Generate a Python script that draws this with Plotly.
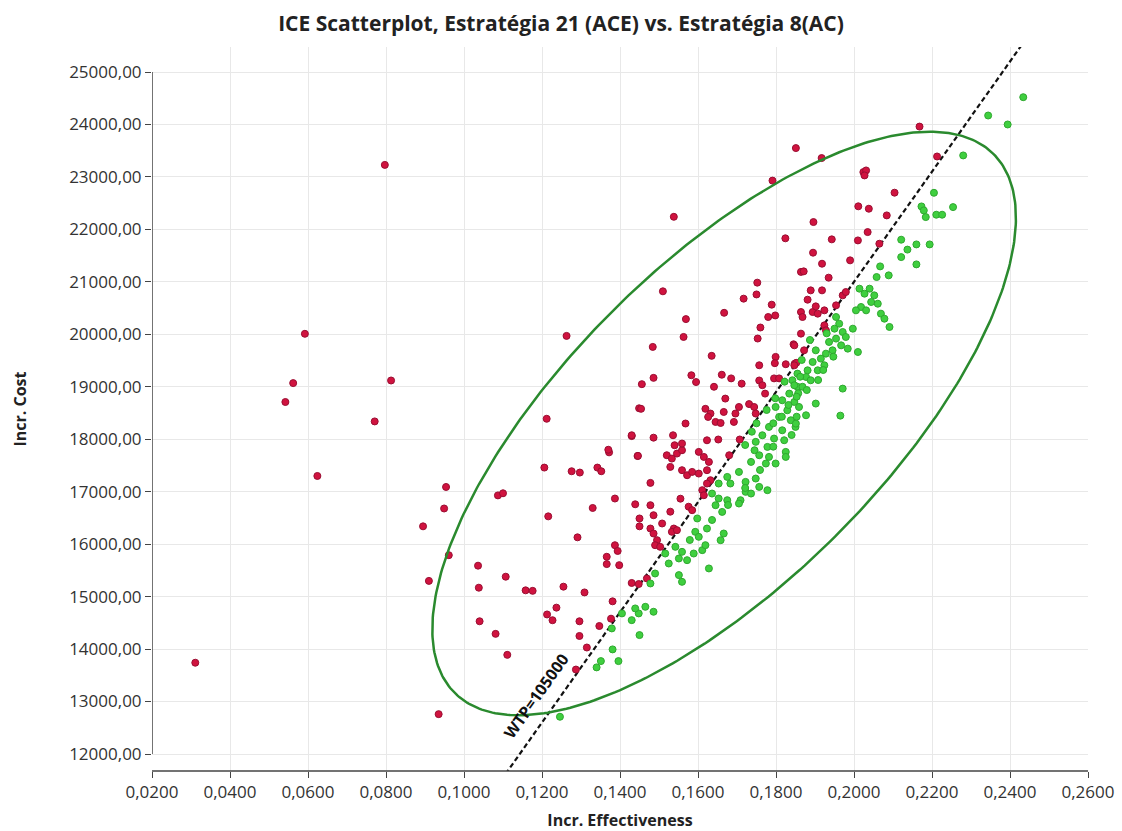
import numpy as np
import plotly.graph_objects as go

# Incremental effectiveness / cost pairs above the WTP threshold (not cost-effective)
red_eff = [
    0.0311, 0.0592, 0.0562, 0.0542, 0.0797, 0.0813, 0.0771, 0.0624, 0.0954, 0.0949,
    0.0895, 0.0961, 0.0910, 0.0935,
    0.1212, 0.1206, 0.1276, 0.1297, 0.1342, 0.1352, 0.1372, 0.1430, 0.1449, 0.1445,
    0.1387, 0.1439, 0.1330, 0.1450, 0.1450, 0.1087, 0.1100, 0.1216, 0.1291, 0.1387,
    0.1394, 0.1366, 0.1366, 0.1398, 0.1036, 0.1107,
    0.1038, 0.1158, 0.1176, 0.1255, 0.1309, 0.1430, 0.1448, 0.1381, 0.1237, 0.1213,
    0.1227, 0.1296, 0.1347, 0.1377, 0.1040, 0.1081, 0.1296, 0.1315, 0.1111, 0.1287,
    0.1752, 0.1750, 0.1717, 0.1510, 0.1667, 0.1789, 0.1780, 0.1798, 0.1569, 0.1563,
    0.1760, 0.1753, 0.1864, 0.1845, 0.1484, 0.1635, 0.1799, 0.1797, 0.1825, 0.1848,
    0.1757, 0.1486, 0.1456, 0.1583, 0.1595, 0.1661, 0.1685, 0.1712, 0.1757, 0.1765,
    0.1772, 0.1795, 0.1808, 0.1641, 0.1670, 0.1454, 0.1619, 0.1632, 0.1626, 0.1666,
    0.1705, 0.1696, 0.1731, 0.1744, 0.1748, 0.1692, 0.1645, 0.1658, 0.1568, 0.1430,
    0.1486, 0.1536, 0.1540, 0.1623, 0.1652, 0.1707, 0.1370,
    0.1446, 0.1520, 0.1533, 0.1546, 0.1559, 0.1559, 0.1602, 0.1615, 0.1628, 0.1529,
    0.1559, 0.1572, 0.1585, 0.1602, 0.1623, 0.1632, 0.1623, 0.1680, 0.1478, 0.1478,
    0.1486, 0.1555, 0.1529, 0.1576, 0.1585, 0.1611, 0.1615, 0.1478, 0.1508, 0.1538,
    0.1533, 0.1546, 0.1486, 0.1495, 0.1490, 0.1503, 0.1469,
    0.1538, 0.1791, 0.1824, 0.1263,
    0.2168, 0.1851, 0.1917, 0.2024, 0.2031, 0.2027, 0.2213, 0.2104, 0.2011, 0.2038,
    0.2084, 0.1896, 0.1943, 0.2035, 0.2010, 0.2065, 0.1895, 0.1918, 0.1990, 0.1871,
    0.1935,
    0.1889, 0.1918, 0.1881, 0.1864, 0.1868, 0.1894, 0.1907, 0.1924, 0.1902, 0.1954,
    0.1971, 0.1979, 0.1924, 0.1928, 0.1864, 0.1847, 0.1872, 0.1852, 0.1847,
]
red_cost = [
    13740, 20010, 19070, 18710, 23230, 19120, 18340, 17300, 17090, 16680,
    16340, 15790, 15300, 12760,
    18390, 17460, 17390, 17365, 17460, 17390, 17750, 18060, 18590, 17680,
    16870, 16760, 16690, 16490, 16340, 16930, 16970, 16530, 16130, 15980,
    15870, 15760, 15620, 15600, 15590, 15380,
    15170, 15120, 15110, 15190, 15080, 15260, 15240, 14910, 14790, 14660,
    14550, 14530, 14440, 14580, 14530, 14290, 14250, 14030, 13890, 13610,
    20985, 20760, 20680, 20820, 20410, 20565, 20330, 20360, 20290, 19950,
    20130, 19920, 21190, 19810, 19760, 19590, 19570, 19450, 19430, 19440,
    19410, 19170, 19050, 19220, 19090, 19230, 19160, 19060, 19120, 19030,
    18870, 19160, 19160, 19000, 18775, 18580, 18580, 18490, 18425, 18520,
    18615, 18490, 18670, 18615, 18490, 18330, 18330, 18310, 18300, 18076,
    18030, 18076, 17886, 17980, 17995, 17995, 17800,
    17683, 17695, 17632, 17727, 17790, 17918, 17759, 17663, 17568, 17473,
    17410, 17314, 17377, 17346, 17410, 17219, 17156, 17695, 17168, 16743,
    16552, 16867, 16619, 16714, 16648, 17029, 16933, 16298, 16394, 16298,
    16235, 16267, 16203, 16076, 15981, 15949, 15346,
    22240, 22930, 21830, 19970,
    23960, 23550, 23360, 23092, 23124, 23029, 23390, 22700, 22440, 22394,
    22267, 22140, 21810, 21949, 21790, 21727, 21556, 21346, 21410, 21200,
    21080,
    20838, 20838, 20660, 20425, 20330, 20425, 20394, 20457, 20533, 20552,
    20743, 20806, 20171, 20076, 20013, 19790, 19695, 19456, 19410,
]

# Pairs below the WTP threshold (cost-effective)
green_eff = [
    0.1379, 0.1381, 0.1396, 0.1351, 0.1340, 0.1430, 0.1448, 0.1450, 0.1246,
    0.1842, 0.1855, 0.1834, 0.1816, 0.1847, 0.1799, 0.1829, 0.1859, 0.1808, 0.1838,
    0.1782, 0.1816, 0.1850, 0.1765, 0.1795, 0.1748, 0.1778, 0.1821,
    0.1745, 0.1757, 0.1782, 0.1799, 0.1825, 0.1825, 0.1774, 0.1736, 0.1705, 0.1675,
    0.1683, 0.1653, 0.1722, 0.1748, 0.1757, 0.1778, 0.1636, 0.1653, 0.1675, 0.1709,
    0.1722, 0.1736, 0.1645, 0.1662, 0.1705, 0.1598, 0.1593, 0.1623, 0.1658, 0.1666,
    0.1602, 0.1542, 0.1559, 0.1551, 0.1572, 0.1589, 0.1611, 0.1619, 0.1525, 0.1516,
    0.1628, 0.1490, 0.1478, 0.1551, 0.1559, 0.1439, 0.1465, 0.1486, 0.1405,
    0.2434, 0.2344, 0.2394, 0.2280, 0.2205, 0.2173, 0.2179, 0.2184, 0.2211, 0.2226,
    0.2254, 0.2160, 0.2194, 0.2121, 0.2137, 0.2121, 0.2160, 0.2067, 0.2058, 0.2089,
    0.2014, 0.2027, 0.2040, 0.2052, 0.2061, 0.2044, 0.2018, 0.2031, 0.2005, 0.2069,
    0.2078, 0.2091, 0.1997, 0.1954, 0.1962, 0.1950, 0.1971, 0.1979, 0.1954, 0.1967,
    0.1984, 0.1936, 0.1945, 0.1928, 0.2010, 0.1902, 0.1915, 0.1894, 0.1924, 0.1907,
    0.1881, 0.1877, 0.1855, 0.1889, 0.1868, 0.1847, 0.1971, 0.1902, 0.1877, 0.1851,
    0.1965,
    0.1862, 0.1822, 0.1857, 0.1798, 0.1832, 0.1776, 0.1815, 0.1853, 0.1750, 0.1793,
    0.1738, 0.1840, 0.1793, 0.1721,
    0.1930, 0.1887, 0.1921, 0.1947, 0.1866, 0.1853, 0.1879, 0.1908,
    0.1636, 0.1677, 0.1721, 0.1579, 0.1759,
]
green_cost = [
    14394, 13994, 13771, 13771, 13651, 14552, 14680, 14267, 12710,
    19124, 19000, 18870, 18743, 18711, 18615, 18552, 18615, 18425, 18362,
    18235, 18171, 18235, 18076, 18013, 17950, 17854, 17981,
    17790, 17695, 17663, 17537, 17759, 17663, 17537, 17568, 17377, 17282,
    17156, 17156, 17187, 17251, 17092, 17029, 16965, 16870, 16838, 16838,
    16997, 16965, 16743, 16615, 16775, 16490, 16235, 16298, 16076, 16203,
    16140, 15949, 15854, 15727, 15695, 15822, 15886, 15981, 15632, 15822,
    15537, 15441, 15251, 15410, 15282, 14775, 14806, 14711, 14680,
    24520, 24171, 24000, 23410, 22698, 22438, 22362, 22235, 22280, 22280,
    22425, 21714, 21714, 21804, 21615, 21472, 21333, 21295, 21092, 21124,
    20870, 20775, 20870, 20743, 20584, 20616, 20521, 20457, 20457, 20394,
    20298, 20140, 20108, 20330, 20203, 20108, 20044, 19949, 19918, 19790,
    19727, 19854, 19695, 19632, 19663, 19695, 19537, 19473, 19410, 19314,
    19314, 19187, 19251, 19124, 19000, 19029, 18965, 18680, 18457, 18298,
    18450,
    19192, 19097, 18876, 18781, 18653, 18558, 18430, 18430, 18304, 18304,
    18144, 18081, 17858, 17890,
    20019, 19892, 19320, 19574, 19511, 18811, 18938, 19129,
    16461, 16747, 17071, 16080, 17414,
]

WTP = 105000
x_ticks = [0.02, 0.04, 0.06, 0.08, 0.10, 0.12, 0.14, 0.16, 0.18, 0.20, 0.22, 0.24, 0.26]
y_ticks = [12000, 13000, 14000, 15000, 16000, 17000, 18000, 19000, 20000, 21000,
           22000, 23000, 24000, 25000]

# Confidence ellipse: centre and the two half-axis vectors (effect, cost)
ell_center = (0.1667, 18300)
ell_major = (0.0691, 5135)
ell_minor = (-0.0287, 2137)

X_RANGE = [0.02, 0.26]
Y_RANGE = [11676, 25477]

FONT = "Open Sans"

fig = go.Figure()

# WTP threshold line
wx = np.array([0.10, 0.26])
fig.add_trace(go.Scatter(
    x=wx, y=WTP * wx, mode="lines",
    line=dict(color="#111111", width=2.2, dash="5px,3px"),
    hoverinfo="skip", showlegend=False,
))

fig.add_trace(go.Scatter(
    x=red_eff, y=red_cost, mode="markers",
    marker=dict(size=7, color="#d0133f", line=dict(color="#9a0e32", width=1)),
    showlegend=False,
))
fig.add_trace(go.Scatter(
    x=green_eff, y=green_cost, mode="markers",
    marker=dict(size=7, color="#3fcf3f", line=dict(color="#2fa82f", width=1)),
    showlegend=False,
))

t = np.linspace(0, 2 * np.pi, 400)
ex = ell_center[0] + np.cos(t) * ell_major[0] + np.sin(t) * ell_minor[0]
ey = ell_center[1] + np.cos(t) * ell_major[1] + np.sin(t) * ell_minor[1]
fig.add_trace(go.Scatter(
    x=ex, y=ey, mode="lines",
    line=dict(color="#2a8a2e", width=2.5),
    hoverinfo="skip", showlegend=False,
))

# Axis lines spanning only the tick range
fig.add_shape(type="line", xref="x", yref="y", x0=0.02, x1=0.02, y0=12000, y1=25000,
              line=dict(color="#444444", width=1.5))
fig.add_shape(type="line", xref="x", yref="paper", x0=0.02, x1=0.26, y0=0, y1=0,
              line=dict(color="#444444", width=1.5))

fig.add_annotation(
    x=0.1185, y=13100, text="<b>WTP=105000</b>", showarrow=False,
    textangle=-54.8, font=dict(family=FONT, size=16, color="#111111"),
)

fig.update_layout(
    width=1122, height=831,
    margin=dict(l=152, r=34, t=47, b=60, autoexpand=False),
    paper_bgcolor="white", plot_bgcolor="white",
    separators=",.",
    title=dict(
        text="<b>ICE Scatterplot, Estratégia 21 (ACE) vs. Estratégia 8(AC)</b>",
        x=0.5, xanchor="center", y=0.972, yanchor="middle",
        font=dict(family=FONT, size=21, color="#222222"),
    ),
    font=dict(family=FONT, size=16, color="#333333"),
)
fig.update_xaxes(
    range=X_RANGE, tickvals=x_ticks, tickformat=".4f", automargin=False,
    showgrid=True, gridcolor="#e8e8e8", gridwidth=1, zeroline=False, showline=False,
    ticks="outside", ticklen=6, tickcolor="#444444",
    tickfont=dict(size=17, color="#333333"),
    title=dict(text="<b>Incr. Effectiveness</b>", font=dict(size=16, color="#222222"), standoff=12),
)
fig.update_yaxes(
    range=Y_RANGE, tickvals=y_ticks, tickformat=".2f", automargin=False,
    showgrid=True, gridcolor="#e8e8e8", gridwidth=1, zeroline=False, showline=False,
    ticks="outside", ticklen=6, tickcolor="#444444",
    tickfont=dict(size=17, color="#333333"),
    title=dict(text="<b>Incr. Cost</b>", font=dict(size=16, color="#222222"), standoff=38),
)

fig.write_html("out.html")
